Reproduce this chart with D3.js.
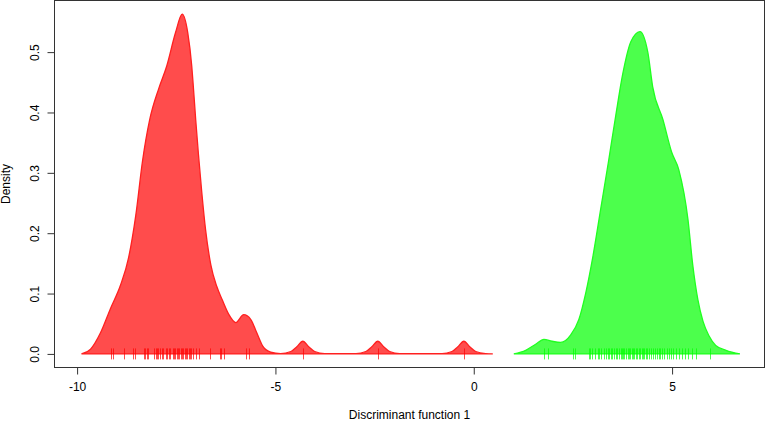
<!DOCTYPE html>
<html><head><meta charset="utf-8">
<script src="https://cdn.jsdelivr.net/npm/d3@7"></script>
<style>body{margin:0;background:#fff}svg{display:block}text{font-family:"Liberation Sans",Arial,sans-serif;font-size:12px;fill:#000}</style>
</head><body><svg id="c" width="767" height="423"></svg>
<script>
// Density curve of group 1 (red): discriminant score, density
const redX = [-9.89,-9.66,-9.41,-9.16,-8.90,-8.70,-8.52,-8.35,-8.17,-7.94,-7.74,-7.52,-7.35,-7.21,-7.11,-7.07,-7.01,-6.94,-6.86,-6.76,-6.63,-6.48,-6.33,-6.18,-6.00,-5.80,-5.62,-5.47,-5.32,-5.12,-4.87,-4.61,-4.46,-4.31,-4.16,-4.01,-3.76,-2.97,-2.72,-2.57,-2.42,-2.27,-2.12,-1.87,-0.80,-0.55,-0.40,-0.25,-0.10,0.05,0.30,0.48];
const redD = [0,0.008,0.035,0.075,0.115,0.16,0.23,0.32,0.388,0.44,0.477,0.532,0.563,0.532,0.477,0.443,0.388,0.33,0.27,0.205,0.148,0.112,0.088,0.066,0.052,0.065,0.057,0.035,0.013,0.003,0.0005,0.004,0.012,0.021,0.012,0.004,0.0005,0.0005,0.004,0.012,0.021,0.012,0.004,0.0005,0.0005,0.004,0.012,0.021,0.012,0.004,0.0005,0];
// Density curve of group 2 (green)
const greenX = [1.01,1.31,1.56,1.77,1.97,2.19,2.45,2.65,2.82,3.00,3.20,3.40,3.58,3.76,3.96,4.19,4.39,4.51,4.77,4.99,5.17,5.40,5.52,5.65,5.78,5.93,6.10,6.36,6.71];
const greenD = [0,0.006,0.016,0.024,0.021,0.019,0.032,0.057,0.10,0.16,0.24,0.32,0.395,0.465,0.517,0.534,0.499,0.443,0.388,0.334,0.305,0.223,0.148,0.09,0.054,0.03,0.014,0.006,0];
// Rug of individual scores
const redRug = [-9.14,-9.10,-8.83,-8.58,-8.55,-8.32,-8.28,-8.25,-8.21,-8.05,-8.01,-7.98,-7.95,-7.91,-7.86,-7.83,-7.76,-7.73,-7.69,-7.66,-7.59,-7.56,-7.52,-7.49,-7.46,-7.42,-7.39,-7.36,-7.32,-7.29,-7.26,-7.22,-7.19,-7.16,-7.12,-7.09,-7.00,-6.92,-6.65,-6.41,-6.36,-6.30,-5.74,-5.66,-4.31,-2.42,-0.25];
const greenRug = [1.77,1.86,2.49,2.55,2.90,2.93,2.97,3.05,3.12,3.17,3.22,3.28,3.34,3.38,3.42,3.45,3.49,3.53,3.58,3.62,3.66,3.70,3.73,3.77,3.80,3.84,3.88,3.91,3.95,3.98,4.02,4.05,4.09,4.12,4.16,4.20,4.23,4.27,4.30,4.34,4.38,4.42,4.47,4.52,4.57,4.62,4.66,4.70,4.75,4.80,4.86,4.92,4.97,5.03,5.10,5.17,5.24,5.32,5.40,5.50,5.60,5.96];
const xTicks = [-10,-5,0,5];
const yTicks = [0,0.1,0.2,0.3,0.4,0.5];
const xLabel = "Discriminant function 1";
const yLabel = "Density";

const svg = d3.select("#c");
const L=54.5, R=764.5, T=0.5, B=367.5;
const x = d3.scaleLinear().domain([-10.57,7.33]).range([L,R]);
const y = d3.scaleLinear().domain([-0.0225,0.5855]).range([B,T]);

const area = d3.area().x(d=>x(d[0])).y0(y(0)).y1(d=>y(d[1])).curve(d3.curveMonotoneX);
function drawCurve(xs, ds, fill, stroke){
  const pts = xs.map((v,i)=>[v,ds[i]]);
  svg.append("path").attr("d",area(pts)).attr("fill",fill).attr("stroke",stroke).attr("stroke-width",1.3);
}
drawCurve(redX, redD, "rgba(255,0,0,0.7)", "#ff2020");
drawCurve(greenX, greenD, "rgba(0,255,0,0.7)", "#20ff20");

function drawRug(vals, col){
  svg.append("g").selectAll("line").data(vals).join("line")
    .attr("x1",d=>Math.round(x(d))+0.5).attr("x2",d=>Math.round(x(d))+0.5)
    .attr("y1",y(0)-5.5).attr("y2",y(0)+5.5)
    .attr("stroke",col).attr("stroke-width",1);
}
drawRug(redRug, "rgba(255,0,0,0.7)");
drawRug(greenRug, "rgba(0,255,0,0.7)");

// box
svg.append("rect").attr("x",L).attr("y",T).attr("width",R-L).attr("height",B-T)
  .attr("fill","none").attr("stroke","#333").attr("stroke-width",1);

// x axis
const xa = svg.append("g").attr("transform",`translate(0,${B})`)
  .call(d3.axisBottom(x).tickValues(xTicks).tickSize(7).tickPadding(8).tickFormat(d=>String(d)));
xa.select(".domain").remove();
xa.selectAll("line").attr("stroke","#333");
xa.selectAll("text").attr("font-size",12).attr("font-family","Liberation Sans, Arial, sans-serif").attr("fill","#000");

// y axis
const ya = svg.append("g").attr("transform",`translate(${L},0)`)
  .call(d3.axisLeft(y).tickValues(yTicks).tickSize(7).tickFormat(d3.format(".1f")));
ya.select(".domain").remove();
ya.selectAll("line").attr("stroke","#333");
ya.selectAll("text").attr("font-size",12).attr("font-family","Liberation Sans, Arial, sans-serif").attr("fill","#000")
  .attr("transform","rotate(-90)").attr("x",0).attr("y",-16).attr("dy","0").attr("text-anchor","middle");

svg.append("text").attr("x",(L+R)/2).attr("y",419).attr("text-anchor","middle").text(xLabel);
svg.append("text").attr("transform",`translate(10,${(T+B)/2}) rotate(-90)`).attr("text-anchor","middle").text(yLabel);
</script></body></html>
